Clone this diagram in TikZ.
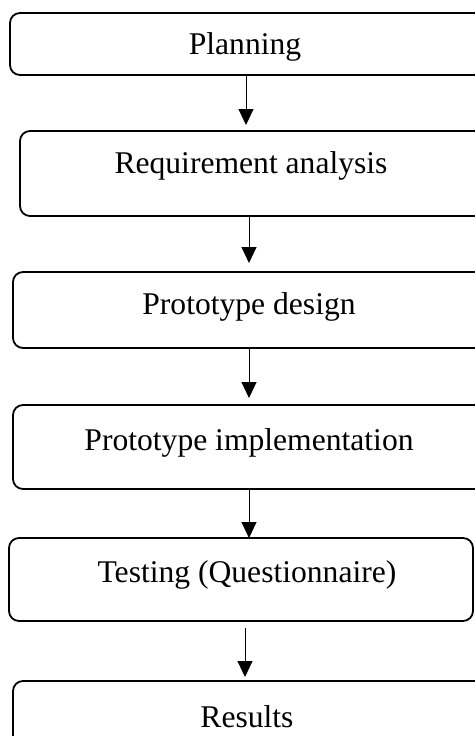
\documentclass[tikz,border=0pt]{standalone}
\usepackage{fontspec}
\setmainfont{Liberation Serif}
\usetikzlibrary{arrows.meta}
\begin{document}
\begin{tikzpicture}[x=1pt,y=-1pt,
    stage/.style={draw,line width=1.8pt,rounded corners=10pt,inner sep=0pt,outer sep=0pt,
      font=\fontsize{31.6}{38}\selectfont,text height=21pt},
    flow/.style={-{Triangle[length=16pt,width=15pt]},line width=1pt}]
    \useasboundingbox (0,0) rectangle (474,736);

    % boxes run past the right edge, text pushed back with \hspace*
    \node[stage,minimum width=490pt,minimum height=62pt,text depth=1pt] (plan) at (255,44) {Planning\hspace*{20pt}};
    \node[stage,minimum width=480pt,minimum height=85pt,text depth=22pt] (req) at (260,173.5) {Requirement analysis\hspace*{18pt}};
    \node[stage,minimum width=487pt,minimum height=76pt,text depth=12pt] (design) at (256.5,310) {Prototype design\hspace*{15pt}};
    \node[stage,minimum width=487pt,minimum height=84pt,text depth=14pt] (impl) at (256.5,447) {Prototype implementation\hspace*{15pt}};
    \node[stage,minimum width=464pt,minimum height=83pt,text depth=15pt] (test) at (241,579.5) {\hspace*{12pt}Testing (Questionnaire)};
    \node[stage,minimum width=487pt,minimum height=85pt,text depth=13pt] (res) at (256.5,723.5) {Results\hspace*{19pt}};

    \draw[flow,shorten >=6pt] ([xshift=-9pt]plan.south) -- ([xshift=-9pt]plan.south |- req.north);
    \draw[flow,shorten >=9pt] ([xshift=-11pt]req.south) -- ([xshift=-11pt]req.south |- design.north);
    \draw[flow,shorten >=7pt] ([xshift=-7.5pt]design.south) -- ([xshift=-7.5pt]design.south |- impl.north);
    \draw[flow] ([xshift=-7.5pt]impl.south) -- ([xshift=-7.5pt]impl.south |- test.north);
    \draw[flow,shorten <=7pt,shorten >=4pt] ([xshift=4pt]test.south) -- ([xshift=4pt]test.south |- res.north);
\end{tikzpicture}
\end{document}
